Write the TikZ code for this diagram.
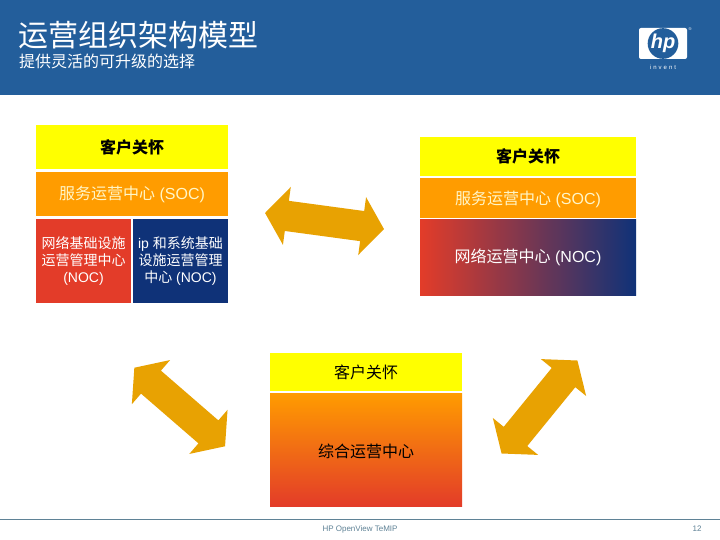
\documentclass[tikz,border=0pt]{standalone}
\usepackage{fontspec}
\setmainfont{Liberation Sans}
\newfontfamily\cjk{Noto Sans CJK SC}
\usetikzlibrary{positioning, shapes.arrows, shadings}
\definecolor{headerblue}{HTML}{235E9B}
\definecolor{careyellow}{HTML}{FFFF00}
\definecolor{socorange}{HTML}{FF9C00}
\definecolor{nocred}{HTML}{E33C29}
\definecolor{nocblue}{HTML}{0F3278}
\definecolor{arrowgold}{HTML}{E8A202}
\definecolor{softtext}{HTML}{FFF6C8}
\definecolor{footgrey}{HTML}{5F8296}

\begin{document}
\begin{tikzpicture}[
  x=1pt, y=-1pt,
  node distance=3pt and 2pt,
  panel/.style={rectangle, outer sep=0pt, inner sep=0pt, align=center,
                font=\fontsize{16}{19}\selectfont},
  care/.style={panel, fill=careyellow, text=black},
  soc/.style={panel, fill=socorange, text=softtext},
  noc/.style={panel, text=white, font=\fontsize{14}{17}\selectfont},
  swap/.style={double arrow, fill=arrowgold, minimum width=58pt, minimum height=120pt,
               double arrow head extend=14pt, double arrow tip angle=106,
               inner xsep=0pt, inner ysep=15pt}]
\useasboundingbox (0,0) rectangle (720,540);
\fill[white] (0,0) rectangle (720,540);
% header
\node[rectangle, fill=headerblue, minimum width=720pt, minimum height=95pt, inner sep=0pt,
      outer sep=0pt] (head) at (360,47.5) {};
\node[text=white, inner sep=0pt, anchor=west, font=\fontsize{30}{34}\selectfont\cjk] (title) at (18,35.5) {运营组织架构模型};
\node[text=white, inner sep=0pt, anchor=west, font=\fontsize{16}{19}\selectfont\cjk] (subtitle) at (19,61) {提供灵活的可升级的选择};
% logo
\node[rectangle, rounded corners=2pt, fill=white, minimum width=48pt, minimum height=31pt] (logo) at (663,43.5) {};
\node[circle, fill=headerblue, minimum size=29pt, inner sep=0pt, text=white,
      font=\fontsize{20}{20}\selectfont\bfseries\itshape] (hp) at (663,43.5) {hp};
\node[text=white, inner sep=0pt, font=\fontsize{6}{6}\selectfont] (invent) at (663,67.5) {i\,\,n\,\,v\,\,e\,\,n\,\,t};
\node[text=white, inner sep=0pt, font=\fontsize{4}{4}\selectfont] (reg) at (690,29) {®};
% left stack
\node[care, minimum width=192pt, minimum height=44pt, font=\fontsize{16}{19}\selectfont\cjk\bfseries] (careL) at (132,147) {客户关怀};
\node[soc, minimum width=192pt, minimum height=44pt, below=3pt of careL] (socL) {{\cjk 服务运营中心} (SOC)};
\node[noc, fill=nocred, minimum width=95pt, minimum height=84pt, below=3pt of socL.south west, anchor=north west] (redL)
  {{\cjk 网络基础设施}\\{\cjk 运营管理中心}\\(NOC)};
\node[noc, fill=nocblue, minimum width=95pt, minimum height=84pt, right=2pt of redL] (blueL)
  {ip {\cjk 和系统基础}\\{\cjk 设施运营管理}\\{\cjk 中心} (NOC)};
% right stack
\node[care, minimum width=216pt, minimum height=39pt, font=\fontsize{16}{19}\selectfont\cjk\bfseries] (careR) at (528,156.5) {客户关怀};
\node[soc, minimum width=216pt, minimum height=40pt, below=2pt of careR] (socR) {\rule{0pt}{17pt}{\cjk 服务运营中心} (SOC)};
\node[noc, left color=nocred, middle color=nocred!62!nocblue, right color=nocblue, minimum width=216pt, minimum height=75pt,
      below=2pt of socR, font=\fontsize{16}{19}\selectfont] (nocR) {{\cjk 网络运营中心} (NOC)};
% centre stack
\node[care, minimum width=192pt, minimum height=38pt, font=\fontsize{16}{19}\selectfont\cjk] (careC) at (366,372) {客户关怀};
\node[panel, top color=socorange, bottom color=nocred, text=black, minimum width=192pt, minimum height=113pt,
      below=2pt of careC, font=\fontsize{16}{19}\selectfont\cjk] (ops) {\rule{0pt}{18pt}综合运营中心};
% arrows
\node[swap, rotate=-7.7] (swapTop) at (324.5,221) {};
\node[swap, rotate=-40.9] (swapLeft) at (179.7,407) {};
\node[swap, rotate=50.8] (swapRight) at (539.5,407) {};
% footer
\coordinate (ruleL) at (0,519.5);
\coordinate (ruleR) at (720,519.5);
\draw[footgrey, line width=0.8pt] (ruleL) -- (ruleR);
\node[text=footgrey, inner sep=0pt, font=\fontsize{8}{8}\selectfont] (foot) at (360,529) {HP OpenView TeMIP};
\node[text=footgrey, inner sep=0pt, font=\fontsize{8}{8}\selectfont] (page) at (697,529) {12};
\end{tikzpicture}
\end{document}
